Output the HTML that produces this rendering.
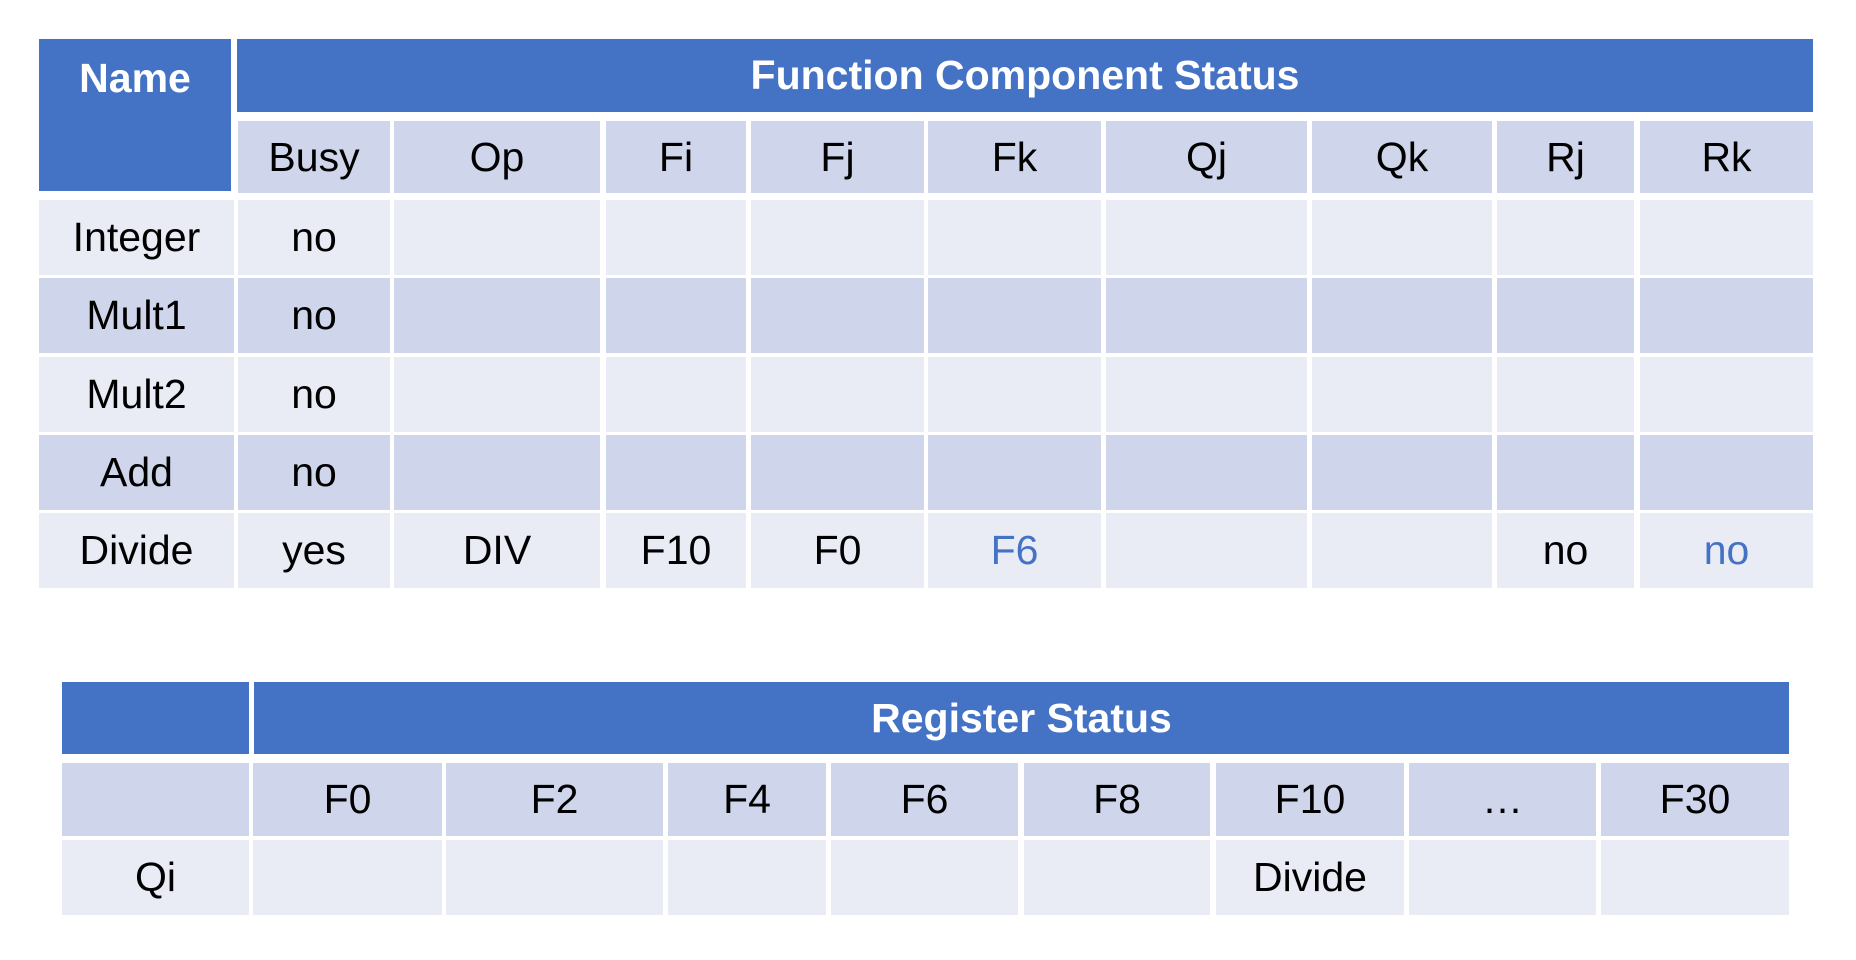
<!DOCTYPE html>
<html><head><meta charset="utf-8"><style>
body{margin:0;width:1856px;height:960px;background:#fff;position:relative;overflow:hidden;font-family:"Liberation Sans",sans-serif}
.c{position:absolute;display:flex;align-items:center;justify-content:center;font-size:41px;color:#000}
.h{background:#4472C4;color:#fff;font-weight:bold;font-size:41px}
.d{background:#CFD5EA}
.l{background:#E9EBF5}
.b{color:#4472C4}
</style></head><body>
<div class="c h" style="left:39px;top:39px;width:192px;height:152px;align-items:flex-start;padding-top:0"><span style="margin-top:16px">Name</span></div>
<div class="c h" style="left:237px;top:39px;width:1576px;height:73px">Function Component Status</div>
<div id="t"></div>
<script>
var cols=[[238,390],[394,600],[606,746],[751,924],[928,1101],[1106,1307],[1312,1492],[1497,1634],[1640,1813]];
var hd=["Busy","Op","Fi","Fj","Fk","Qj","Qk","Rj","Rk"];
var rows=[["Integer","no"],["Mult1","no"],["Mult2","no"],["Add","no"],["Divide","yes","DIV","F10","F0","<span class=b>F6</span>","","","no","<span class=b>no</span>"]];
var h="";
function cell(x1,x2,y,hh,cls,t){return '<div class="c '+cls+'" style="left:'+x1+'px;top:'+y+'px;width:'+(x2-x1)+'px;height:'+hh+'px">'+(t||"")+'</div>';}
cols.forEach(function(c,i){h+=cell(c[0],c[1],121,72,"d",hd[i]);});
rows.forEach(function(r,ri){var y=200+ri*78.25;var cls=ri%2?"d":"l";
 h+=cell(39,234,y,75,cls,r[0]);
 cols.forEach(function(c,i){h+=cell(c[0],c[1],y,75,cls,r[i+1]);});});
var bc=[[253,442],[446,663],[668,826],[831,1018],[1024,1210],[1216,1404],[1409,1596],[1601,1789]];
var bh=["F0","F2","F4","F6","F8","F10","…","F30"];
h+=cell(62,249,682,72,"h","");
h+=cell(254,1789,682,72,"h","Register Status");
h+=cell(62,249,763,73,"d","");
h+=cell(62,249,840,75,"l","Qi");
bc.forEach(function(c,i){h+=cell(c[0],c[1],763,73,"d",bh[i]);h+=cell(c[0],c[1],840,75,"l",i==5?"Divide":"");});
document.getElementById("t").innerHTML=h;
</script>
</body></html>
